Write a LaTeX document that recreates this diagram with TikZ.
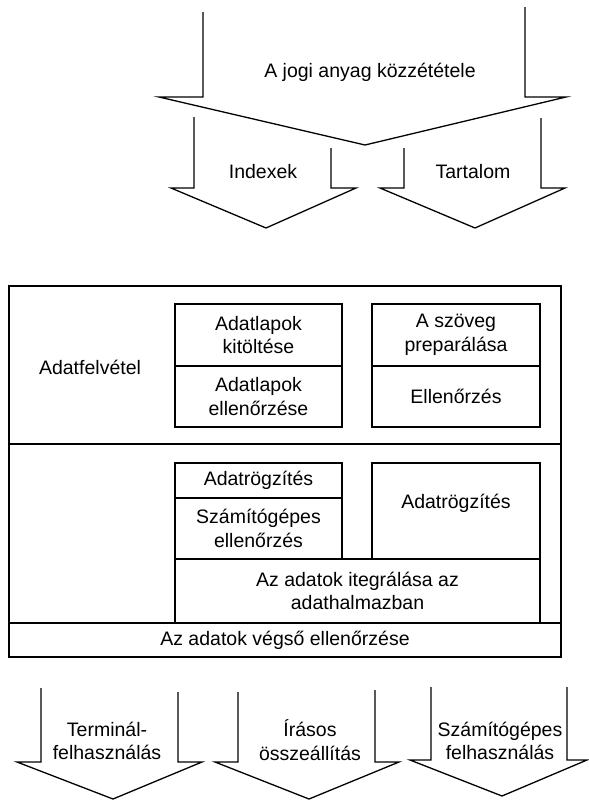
\documentclass[tikz,border=0pt]{standalone}
\usepackage{fontspec}
\setmainfont{Liberation Sans}
\usetikzlibrary{positioning}

\begin{document}
\begin{tikzpicture}[x=1pt,y=-1pt,
  txt/.style={font=\fontsize{19.5}{23.5}\selectfont,align=center,inner sep=0pt},
  cell/.style={draw,line width=1.3pt,inner sep=0pt,outer sep=0pt,
               font=\fontsize{19.5}{23.5}\selectfont,align=center},
  flow/.style={draw,line width=1.3pt,line join=miter}
]
  \useasboundingbox (0,0) rectangle (589,801);

  % ---- Publication arrow (top) ------------------------------
  \draw[flow] (203,12) -- (203,97) -- (159,97) -- (365,145)
    -- (566,97) -- (525,97) -- (525,7);
  \node[txt] (publ) at (370,72) {A jogi anyag közzététele};

  % Indexes
  \draw[flow] (194,117) -- (194,188) -- (171,188) -- (266,228)
    -- (356,188) -- (331,188) -- (331,148);
  \node[txt] (index) at (263,172) {Indexek};

  % Contents
  \draw[flow] (404,148) -- (404,188) -- (380,188) -- (475,228)
    -- (565,188) -- (541,188) -- (541,118);
  \node[txt] (content) at (473,172) {Tartalom};

  % ---- Processing block --------------------------------------
  \node[cell,minimum width=552,minimum height=158] (upper) at (285,365) {};
  \node[cell,minimum width=552,minimum height=179] (lower) at (285,533.5) {};
  \node[txt] (felvetel) at (90,367) {Adatfelvétel};

  % Data sheets
  \node[cell,minimum width=167,minimum height=62] (kitolt) at (258.5,335)
    {Adatlapok\\kitöltése};
  \node[cell,minimum width=167,minimum height=61] (lapell) at (258.5,396.5)
    {Adatlapok\\ellenőrzése};

  % Text preparation
  \node[cell,minimum width=168,minimum height=62] (prep) at (456,335)
    {A szöveg\\preparálása};
  \node[cell,minimum width=168,minimum height=61] (szell) at (456,396.5)
    {Ellenőrzés};

  % Recording
  \node[cell,minimum width=167,minimum height=35] (rogz) at (258.5,480.5)
    {Adatrögzítés};
  \node[cell,minimum width=167,minimum height=61] (gepell) at (258.5,528.5)
    {Számítógépes\\ellenőrzés};
  \node[cell,minimum width=168,minimum height=96] (rogzbox) at (456,511) {};
  \node[txt] (rogztxt) at (456,503) {Adatrögzítés};

  % Integration and final check
  \node[cell,minimum width=365,minimum height=64] (integ) at (357.5,591)
    {Az adatok itegrálása az\\adathalmazban};
  \node[cell,minimum width=552,minimum height=34] (vegso) at (285,640)
    {Az adatok végső ellenőrzése};

  % ---- Output arrows (bottom) --------------------------------
  \draw[flow] (41,688) -- (41,762) -- (17,762) -- (113,799)
    -- (202,762) -- (178,762) -- (178,692);
  \node[txt] (termin) at (107,741) {Terminál-\\felhasználás};

  \draw[flow] (238,692) -- (238,762) -- (215,762) -- (309,799)
    -- (399,762) -- (375,762) -- (375,690);
  \node[txt] (irasos) at (310,740) {Írásos\\összeállítás};

  \draw[flow] (431,687) -- (431,760) -- (410,760) -- (502,796)
    -- (587,760) -- (567,760) -- (567,687);
  \node[txt] (gepes) at (500,741) {Számítógépes\\felhasználás};

\end{tikzpicture}
\end{document}
